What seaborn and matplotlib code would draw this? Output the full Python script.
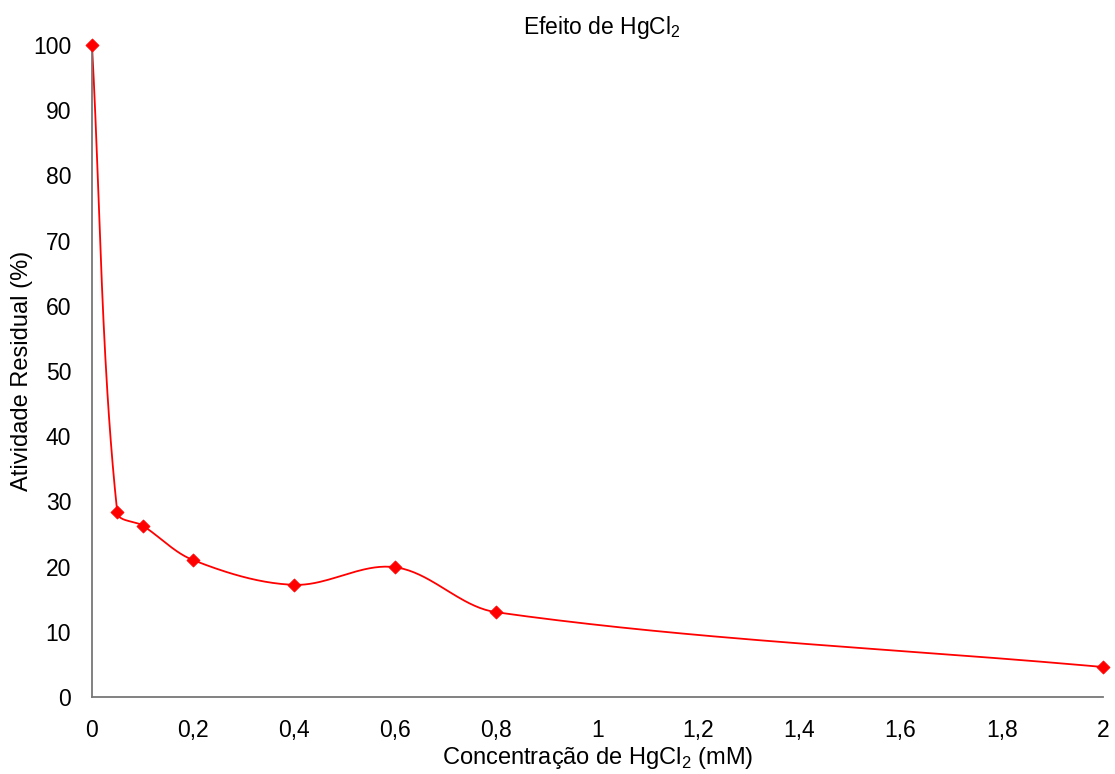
import numpy as np
import pandas as pd
import matplotlib
matplotlib.use("Agg")
import matplotlib.pyplot as plt
import seaborn as sns

# dados
concentracao = [0, 0.05, 0.1, 0.2, 0.4, 0.6, 0.8, 2.0]
atividade = [100, 28.3, 26.3, 21.0, 17.2, 19.9, 13.0, 4.6]
xticks = [0, 0.2, 0.4, 0.6, 0.8, 1, 1.2, 1.4, 1.6, 1.8, 2]
yticks = list(range(0, 101, 10))

sns.set_style("white")
plt.rcParams['font.family'] = ['Liberation Sans', 'DejaVu Sans']
plt.rcParams['mathtext.fontset'] = 'custom'
plt.rcParams['mathtext.rm'] = 'Liberation Sans'
plt.rcParams['text.color'] = 'black'
plt.rcParams['axes.labelcolor'] = 'black'


# linha suavizada estilo Excel: Bezier em coordenadas de ecrã, tangente na
# direção dos vizinhos e comprimento proporcional ao segmento
def suavizar(ax, x, y, n=40, k=1 / 3):
    pts = ax.transData.transform(np.column_stack([x, y]))
    m = len(pts)
    tang = []
    for i in range(m):
        a = pts[max(i - 1, 0)]
        b = pts[min(i + 1, m - 1)]
        d = b - a
        tang.append(d / np.hypot(*d))
    out = []
    for i in range(m - 1):
        corda = np.hypot(*(pts[i + 1] - pts[i]))
        c1 = pts[i] + tang[i] * corda * k
        c2 = pts[i + 1] - tang[i + 1] * corda * k
        t = np.linspace(0, 1, n)[:, None]
        seg = ((1 - t) ** 3 * pts[i] + 3 * (1 - t) ** 2 * t * c1
               + 3 * (1 - t) * t ** 2 * c2 + t ** 3 * pts[i + 1])
        out.append(seg)
    out = ax.transData.inverted().transform(np.vstack(out))
    return out[:, 0], out[:, 1]


df = pd.DataFrame({'conc': concentracao, 'ativ': atividade})

fig = plt.figure(figsize=(11.15, 7.74), dpi=100)
ax = fig.add_axes([0.0825, 0.0995, 0.9065, 0.8424])
ax.set_xlim(0, 2)
ax.set_ylim(0, 100)

sx, sy = suavizar(ax, concentracao, atividade)
ax.plot(sx, sy, color='#ff0000', lw=1.3, zorder=2)
sns.scatterplot(data=df, x='conc', y='ativ', marker='D', s=45, color='#ff0000',
                edgecolor='#ff0000', linewidth=0.5, ax=ax, zorder=3, clip_on=False)

ax.set_xticks(xticks)
ax.set_xticklabels([f'{v:g}'.replace('.', ',') for v in xticks])
ax.set_yticks(yticks)
ax.tick_params(axis='both', direction='out', length=5, width=1, color='#555555',
               labelsize=16.5, labelcolor='black')
ax.tick_params(axis='x', pad=11)
ax.tick_params(axis='y', pad=10)
for s in ['top', 'right']:
    ax.spines[s].set_visible(False)
for s in ['left', 'bottom']:
    ax.spines[s].set_color('#777777')
    ax.spines[s].set_linewidth(1.3)

ax.set_xlabel('Concentração de HgCl$_2$ (mM)', fontsize=17, labelpad=2)
ax.set_ylabel('Atividade Residual (%)', fontsize=17)
ax.yaxis.set_label_coords(-0.058, 0.5)
fig.text(0.54, 0.965, 'Efeito de HgCl$_2$', fontsize=16.5, ha='center', va='center')

fig.savefig('out.png', dpi=100)
